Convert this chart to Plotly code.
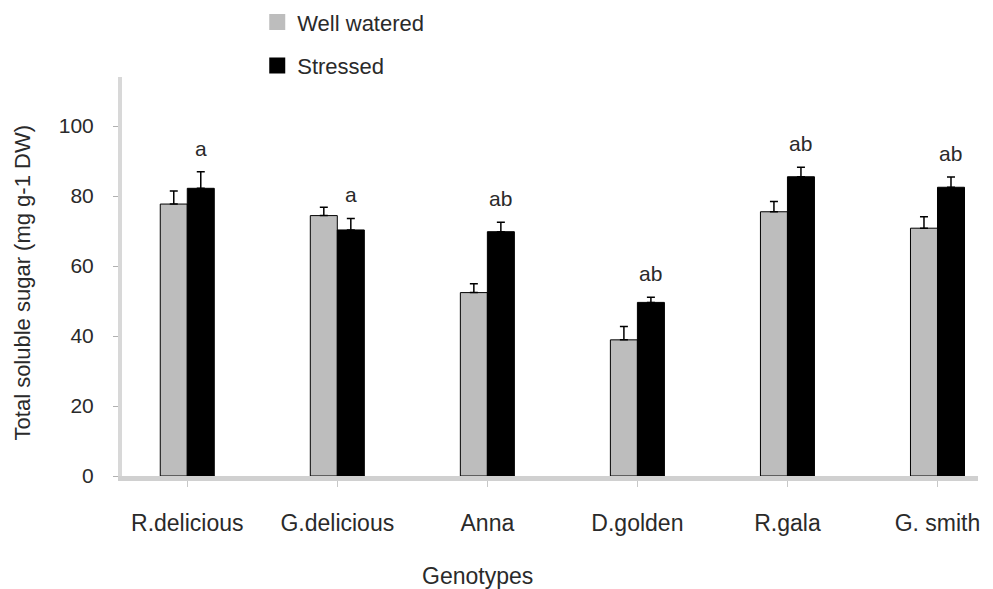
import plotly.graph_objects as go

genotypes = ["R.delicious", "G.delicious", "Anna", "D.golden", "R.gala", "G. smith"]
well_watered = [77.7, 74.4, 52.4, 38.9, 75.5, 70.8]
well_watered_err = [3.7, 2.4, 2.5, 3.8, 2.9, 3.3]
stressed = [82.2, 70.3, 69.8, 49.6, 85.5, 82.5]
stressed_err = [4.7, 3.3, 2.7, 1.5, 2.7, 2.9]
letters = ["a", "a", "ab", "ab", "ab", "ab"]
y_ticks = [0, 20, 40, 60, 80, 100]

FONT = "Liberation Sans, Arial, sans-serif"
TXT = "#2a2a2a"
GRAY = "#bdbdbd"

fig = go.Figure()
fig.add_trace(go.Bar(
    x=genotypes, y=well_watered, name="Well watered", showlegend=False,
    marker=dict(color=GRAY, line=dict(color="black", width=1)),
    error_y=dict(type="data", array=well_watered_err, arrayminus=[0] * len(genotypes),
                 symmetric=False, color="black", thickness=1.5, width=4),
))
fig.add_trace(go.Bar(
    x=genotypes, y=stressed, name="Stressed", showlegend=False,
    marker=dict(color="black", line=dict(color="black", width=1)),
    error_y=dict(type="data", array=stressed_err, arrayminus=[0] * len(genotypes),
                 symmetric=False, color="black", thickness=1.5, width=4),
))
# legend swatches
fig.add_trace(go.Scatter(x=[None], y=[None], mode="markers", name="Well watered",
                         legendgroup="ww",
                         marker=dict(symbol="square", size=18, color=GRAY)))
fig.add_trace(go.Scatter(x=[None], y=[None], mode="markers", name="Stressed",
                         legendgroup="st",
                         marker=dict(symbol="square", size=18, color="black")))

annotations = []
for i, (s, e, lab) in enumerate(zip(stressed, stressed_err, letters)):
    annotations.append(dict(x=i + 0.09, y=s + e, xref="x", yref="y", text=lab,
                            showarrow=False, yanchor="bottom", yshift=10,
                            font=dict(family=FONT, size=21, color=TXT)))
annotations.append(dict(x=(477 - 122) / 856, y=-0.25, xref="paper", yref="paper",
                        text="Genotypes", showarrow=False, xanchor="center", yanchor="middle",
                        font=dict(family=FONT, size=23, color=TXT)))
annotations.append(dict(x=-0.1157, y=0.485, xref="paper", yref="paper",
                        text="Total soluble sugar (mg g-1 DW)", textangle=-90,
                        showarrow=False, xanchor="center", yanchor="middle",
                        font=dict(family=FONT, size=22, color=TXT)))

fig.update_layout(
    width=993, height=589,
    margin=dict(l=114, r=23, t=69, b=121, autoexpand=False),
    paper_bgcolor="white", plot_bgcolor="white",
    barmode="group", bargap=0.64, bargroupgap=0,
    font=dict(family=FONT, size=20, color=TXT),
    showlegend=True,
    legend=dict(x=0.158, y=1.19, xanchor="left", yanchor="top",
                font=dict(family=FONT, size=22, color=TXT),
                bgcolor="rgba(0,0,0,0)", tracegroupgap=12, traceorder="grouped",
                itemwidth=30),
    annotations=annotations,
)
fig.update_xaxes(
    range=[-0.435, 5.27], showgrid=False, zeroline=False,
    showline=True, linecolor="#d0d0d0", linewidth=5,
    ticks="outside", ticklen=6, tickcolor="#c8c8c8", tickwidth=1,
    ticklabelstandoff=16, tickfont=dict(family=FONT, size=23, color=TXT),
)
fig.update_yaxes(
    range=[0, 114], tickvals=y_ticks, showgrid=False, zeroline=False,
    showline=True, linecolor="#d8d8d8", linewidth=4,
    ticks="outside", ticklen=5, tickcolor="#b0b0b0", tickwidth=1,
    ticklabelstandoff=15, tickfont=dict(family=FONT, size=21, color=TXT),
)

fig.write_html("out.html")
